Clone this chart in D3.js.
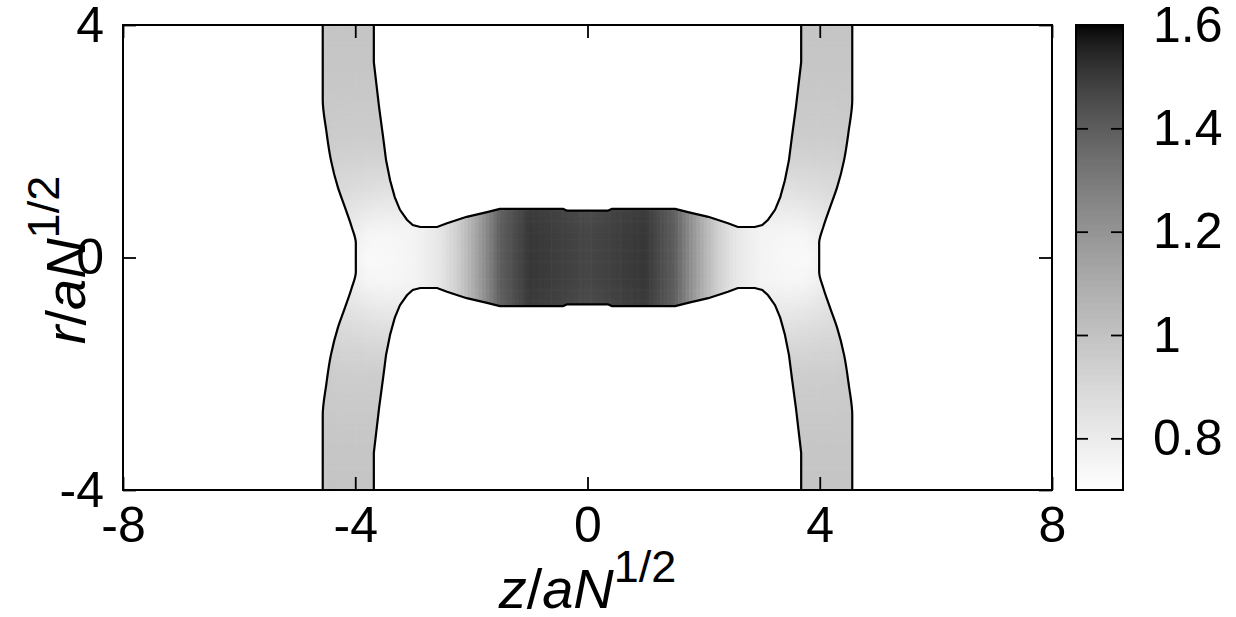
<html>
<head>
<script src="https://d3js.org/d3.v7.min.js"></script>
<style>
  body { margin: 0; background: #fff; }
  text { font-family: "Liberation Sans", Arial, sans-serif; fill: #000; }
</style>
</head>
<body>
<script>

// axis ticks
var zTicks = [-8, -4, 0, 4, 8];
var rTicks = [-4, 0, 4];
var cbTicks = [0.8, 1, 1.2, 1.4, 1.6];

// boundary of the film, right half (mirrored to the left and to r<0)
// outer side of the leg: radius -> z
var outerR = [0, 0.25, 0.52, 0.87, 1.21, 1.68, 2.19, 2.71, 4.0];
var outerZ = [3.99, 3.99, 4.06, 4.18, 4.30, 4.42, 4.50, 4.56, 4.56];
// inner side of the leg, then the top of the bridge, down to z = 0
var innerZ = [3.68, 3.68, 3.59, 3.52, 3.47, 3.40, 3.32, 3.23, 3.11, 3.01, 2.88, 2.59, 2.42, 2.08, 1.73, 1.51, 0.42, 0.35, 0];
var innerR = [4.0, 3.36, 2.59, 2.07, 1.68, 1.33, 1.04, 0.82, 0.65, 0.56, 0.525, 0.525, 0.59, 0.70, 0.78, 0.835, 0.835, 0.805, 0.805];

// density at grid nodes (|z|, |r|); null = outside the film
var zNodes = [0, 0.5, 1.0, 1.5, 1.75, 2.0, 2.25, 2.5, 2.75, 3.0, 3.25, 3.5, 3.75, 4.0, 4.25, 4.5, 4.75];
var rNodes = [0, 0.4, 0.8, 1.2, 1.6, 2.0, 3.0, 4.0];
var densR00 = [1.47, 1.49, 1.51, 1.40, 1.24, 1.08, 0.94, 0.84, 0.79, 0.76, 0.745, 0.735, 0.73, 0.76, null, null, null];
var densR04 = [1.47, 1.49, 1.51, 1.40, 1.24, 1.08, 0.94, 0.84, 0.79, 0.76, 0.75, 0.745, 0.75, 0.78, null, null, null];
var densR08 = [1.45, 1.48, 1.50, 1.39, 1.23, 1.07, 0.93, 0.84, 0.79, 0.78, 0.80, 0.80, 0.81, 0.83, 0.85, null, null];
var densR12 = [null, null, null, null, null, null, null, null, null, 0.85, 0.86, 0.86, 0.87, 0.88, 0.89, 0.90, null];
var densR16 = [null, null, null, null, null, null, null, null, null, null, 0.91, 0.91, 0.91, 0.92, 0.92, 0.93, null];
var densR20 = [null, null, null, null, null, null, null, null, null, null, 0.95, 0.95, 0.95, 0.95, 0.95, 0.96, null];
var densR30 = [null, null, null, null, null, null, null, null, null, null, 0.98, 0.98, 0.98, 0.98, 0.98, 0.98, 0.98];
var densR40 = [null, null, null, null, null, null, null, null, null, null, 0.99, 0.99, 0.99, 0.99, 0.99, 0.99, 0.99];
var densRows = [densR00, densR04, densR08, densR12, densR16, densR20, densR30, densR40];

var W = 1236, H = 617;
var svg = d3.select("body").append("svg").attr("width", W).attr("height", H);

var x = d3.scaleLinear().domain([-8, 8]).range([123, 1052]);
var y = d3.scaleLinear().domain([-4, 4]).range([490, 25]);
var cbY = d3.scaleLinear().domain([0.7, 1.6]).range([490, 25]);

// gnuplot-like negative gray palette, gamma 1.5
var color = d3.scaleSequential(function(t) {
	var g = Math.round(255 * Math.pow(1 - t, 1 / 1.5));
	return d3.rgb(g, g, g).toString();
}).domain([0.7, 1.6]).clamp(true);

// density at any point, from the grid nodes
function dens(z, r) {
	z = Math.abs(z); r = Math.abs(r);
	var i = Math.max(0, Math.min(zNodes.length - 2, d3.bisectRight(zNodes, z) - 1));
	var j = Math.max(0, Math.min(rNodes.length - 2, d3.bisectRight(rNodes, r) - 1));
	var tz = Math.max(0, Math.min(1, (z - zNodes[i]) / (zNodes[i + 1] - zNodes[i])));
	var tr = Math.max(0, Math.min(1, (r - rNodes[j]) / (rNodes[j + 1] - rNodes[j])));
	var corners = [[i, j, (1 - tz) * (1 - tr)], [i + 1, j, tz * (1 - tr)], [i, j + 1, (1 - tz) * tr], [i + 1, j + 1, tz * tr]];
	var s = 0, ws = 0;
	corners.forEach(function(c) {
		var v = densRows[c[1]][c[0]];
		if (v != null) { s += v * c[2]; ws += c[2]; }
	});
	return ws > 1e-9 ? s / ws : null;
}

// shape outline
var leftOuter = [], rightOuter = [], innerTop = [], innerBottom = [];
for (var k = outerR.length - 1; k >= 0; k--) leftOuter.push([-outerZ[k], outerR[k]]);
for (var k = 1; k < outerR.length; k++) leftOuter.push([-outerZ[k], -outerR[k]]);
leftOuter.forEach(function(p) { rightOuter.push([-p[0], p[1]]); });
for (var k = 0; k < innerZ.length; k++) innerTop.push([-innerZ[k], innerR[k]]);
for (var k = innerZ.length - 2; k >= 0; k--) innerTop.push([innerZ[k], innerR[k]]);
innerTop.forEach(function(p) { innerBottom.push([p[0], -p[1]]); });

var lineOuter = d3.line().curve(d3.curveMonotoneY).x(function(d) { return x(d[0]); }).y(function(d) { return y(d[1]); });
var lineInner = d3.line().x(function(d) { return x(d[0]); }).y(function(d) { return y(d[1]); });

// clip region: the four outlines joined along the frame
var clipD = lineOuter(leftOuter) + lineInner(innerBottom).replace(/^M/, "L") +
	lineOuter(rightOuter.slice().reverse()).replace(/^M/, "L") +
	lineInner(innerTop.slice().reverse()).replace(/^M/, "L") + "Z";
svg.append("clipPath").attr("id", "film").append("path").attr("d", clipD);

// density cells
var step = 0.0625, cells = [];
for (var z0 = -4.75; z0 < 4.75; z0 += step) {
	for (var r0 = -4; r0 < 4; r0 += step) {
		var v = dens(z0 + step / 2, r0 + step / 2);
		if (v != null) cells.push({ z: z0, r: r0, v: v });
	}
}
var cw = x(step) - x(0), ch = y(0) - y(step);
svg.append("g").attr("clip-path", "url(#film)")
	.selectAll("rect").data(cells).enter().append("rect")
	.attr("x", function(d) { return x(d.z); })
	.attr("y", function(d) { return y(d.r + step); })
	.attr("width", cw + 0.6)
	.attr("height", ch + 0.6)
	.attr("fill", function(d) { return color(d.v); });

// contour lines
[leftOuter, rightOuter].forEach(function(pts) {
	svg.append("path").attr("d", lineOuter(pts))
		.attr("fill", "none").attr("stroke", "#000").attr("stroke-width", 2.2);
});
[innerTop, innerBottom].forEach(function(pts) {
	svg.append("path").attr("d", lineInner(pts))
		.attr("fill", "none").attr("stroke", "#000").attr("stroke-width", 2.2);
});

// axes, ticks pointing inward and mirrored
var fmt = function(d) { return String(d); };
svg.append("g").attr("transform", "translate(0,490)")
	.call(d3.axisBottom(x).tickValues(zTicks).tickFormat(fmt).tickSize(-13).tickSizeOuter(0).tickPadding(16));
svg.append("g").attr("transform", "translate(0,25)")
	.call(d3.axisTop(x).tickValues(zTicks).tickFormat("").tickSize(-13).tickSizeOuter(0));
svg.append("g").attr("transform", "translate(123,0)")
	.call(d3.axisLeft(y).tickValues(rTicks).tickFormat(fmt).tickSize(-13).tickSizeOuter(0).tickPadding(19));
svg.append("g").attr("transform", "translate(1052,0)")
	.call(d3.axisRight(y).tickValues(rTicks).tickFormat("").tickSize(-13).tickSizeOuter(0));

svg.append("rect").attr("x", 123).attr("y", 25).attr("width", 929).attr("height", 465)
	.attr("fill", "none").attr("stroke", "#000").attr("stroke-width", 2);

// colour box
var cbx0 = 1076, cbx1 = 1123;
var stripes = d3.range(490, 25, -1);
svg.append("g").selectAll("rect").data(stripes).enter().append("rect")
	.attr("x", cbx0).attr("y", function(d) { return d - 1; })
	.attr("width", cbx1 - cbx0).attr("height", 1.3)
	.attr("fill", function(d) { return color(cbY.invert(d - 0.5)); });
svg.append("g").attr("transform", "translate(" + cbx0 + ",0)")
	.call(d3.axisLeft(cbY).tickValues(cbTicks).tickFormat("").tickSize(-12).tickSizeOuter(0));
svg.append("g").attr("transform", "translate(" + cbx1 + ",0)")
	.call(d3.axisRight(cbY).tickValues(cbTicks).tickFormat(d3.format("~g")).tickSize(-12).tickSizeOuter(0).tickPadding(30));
svg.append("rect").attr("x", cbx0).attr("y", 25).attr("width", cbx1 - cbx0).attr("height", 465)
	.attr("fill", "none").attr("stroke", "#000").attr("stroke-width", 2);

svg.selectAll(".domain").remove();
svg.selectAll(".tick line").attr("stroke", "#000").attr("stroke-width", 1.8);
svg.selectAll(".tick text").style("font-size", "50px")
	.style("font-family", "'Liberation Sans', Arial, sans-serif").attr("fill", "#000");

// axis titles
var xl = svg.append("text").attr("x", 587.5).attr("y", 608).attr("text-anchor", "middle").style("font-size", "56px");
xl.append("tspan").style("font-style", "italic").text("z");
xl.append("tspan").text("/");
xl.append("tspan").style("font-style", "italic").text("aN");
xl.append("tspan").attr("dy", -26).style("font-size", "45px").text("1/2");

var yl = svg.append("text").attr("transform", "translate(85,260) rotate(-90)")
	.attr("text-anchor", "middle").style("font-size", "56px");
yl.append("tspan").style("font-style", "italic").text("r");
yl.append("tspan").text("/");
yl.append("tspan").style("font-style", "italic").text("aN");
yl.append("tspan").attr("dy", -26).style("font-size", "45px").text("1/2");

</script>
</body>
</html>
